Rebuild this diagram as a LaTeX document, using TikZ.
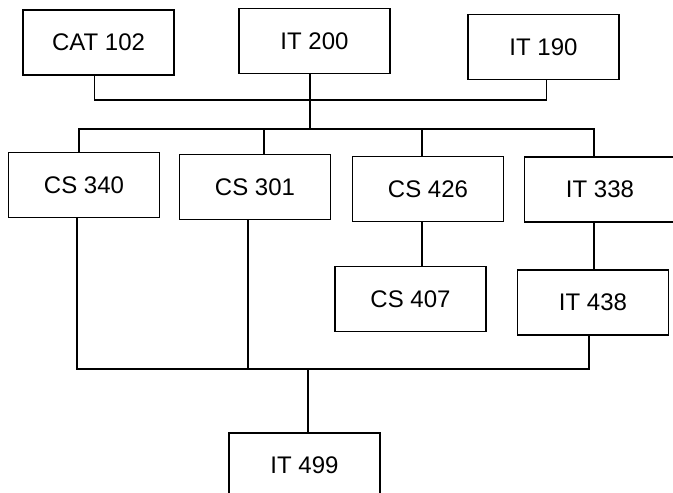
\documentclass[tikz,border=0pt]{standalone}
\usepackage{fontspec}
\setmainfont{Liberation Sans}

\begin{document}
\begin{tikzpicture}[x=1pt,y=-1pt,line width=1.2pt,
                    every node/.style={font=\fontsize{24}{28}\selectfont}]
  \tikzstyle{course}=[rectangle,draw,minimum width=151pt,minimum height=65pt,inner sep=0pt]
  \useasboundingbox (0,0) rectangle (673,493);

  \node[course] (CAT102) at (98.5,42.5)  {CAT 102};
  \node[course] (IT200)  at (314.5,41)   {IT 200};
  \node[course] (IT190)  at (543.5,47)   {IT 190};
  \node[course] (CS340)  at (84,185)     {CS 340};
  \node[course] (CS301)  at (255,187)    {CS 301};
  \node[course] (CS426)  at (428,189)    {CS 426};
  \node[course] (IT338)  at (600,189.5)  {IT 338};
  \node[course] (CS407)  at (410.5,299)  {CS 407};
  \node[course] (IT438)  at (593,302.5)  {IT 438};
  \node[course] (IT499)  at (304.5,465.5) {IT 499};

  \coordinate (j1) at (310,100);
  \coordinate (j2) at (310,129);
  \coordinate (j3) at (308,369);

  \draw ([xshift=-4pt]CAT102.south) |- (j1) -| ([xshift=3pt]IT190.south);
  \draw (IT200.south -| j1) -- (j2);
  \draw ([xshift=-5pt]CS340.north) |- (j2) -| ([xshift=-6pt]IT338.north);
  \draw ([xshift=9pt]CS301.north) -- ([xshift=9pt]CS301.north |- j2);
  \draw ([xshift=-6pt]CS426.north) -- ([xshift=-6pt]CS426.north |- j2);
  \draw ([xshift=-6pt]CS426.south) -- ([xshift=-6pt]CS426.south |- CS407.north);
  \draw ([xshift=-6pt]IT338.south) -- ([xshift=-6pt]IT338.south |- IT438.north);
  \draw ([xshift=-7pt]CS340.south) |- (j3) -| ([xshift=-4pt]IT438.south);
  \draw ([xshift=-7pt]CS301.south) -- ([xshift=-7pt]CS301.south |- j3);
  \draw (j3) -- (j3 |- IT499.north);
\end{tikzpicture}
\end{document}
